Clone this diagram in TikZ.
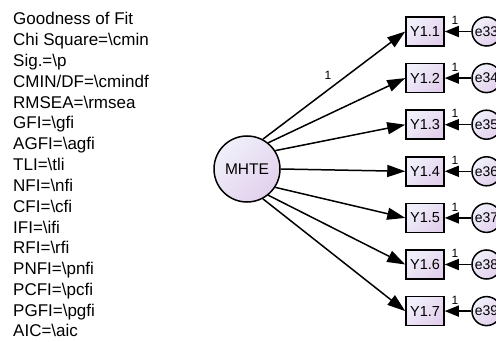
\documentclass[tikz,border=0pt]{standalone}
\usepackage{fontspec}
\setmainfont{Liberation Sans}
\usetikzlibrary{arrows.meta}
\definecolor{lavL}{HTML}{F0F0FA}
\definecolor{lavD}{HTML}{E2D0EC}
\begin{document}
\begin{tikzpicture}[x=1pt,y=-1pt,
  shade/.style={top color=lavL, bottom color=lavD, shading angle=45},
  lat/.style={circle, draw, line width=1.5pt, minimum size=66pt, inner sep=0pt, shade,
    font=\fontsize{15.5}{16}\selectfont},
  obs/.style={rectangle, draw, line width=1.5pt, minimum width=38pt, minimum height=29pt,
    inner sep=0pt, shade, font=\fontsize{14.5}{15}\selectfont},
  err/.style={circle, draw, line width=1.5pt, minimum size=29pt, inner sep=0pt, shade,
    font=\fontsize{14}{15}\selectfont},
  regarrow/.style={line width=1.5pt, -{Triangle[length=18pt,width=12pt]}},
  errarrow/.style={line width=1.5pt, -{Triangle[length=14pt,width=11pt]}},
  one/.style={font=\fontsize{12}{12}\selectfont, inner sep=0pt},
  fitline/.style={anchor=base west, inner sep=0pt, font=\fontsize{17}{19.5}\selectfont}
]
\useasboundingbox (0,0) rectangle (496,342);

% fit statistics
\foreach \t [count=\i] in {Goodness of Fit,
  Chi Square=\textbackslash cmin,
  Sig.=\textbackslash p,
  CMIN/DF=\textbackslash cmindf,
  RMSEA=\textbackslash rmsea,
  GFI=\textbackslash gfi,
  AGFI=\textbackslash agfi,
  TLI=\textbackslash tli,
  NFI=\textbackslash nfi,
  CFI=\textbackslash cfi,
  IFI=\textbackslash ifi,
  RFI=\textbackslash rfi,
  PNFI=\textbackslash pnfi,
  PCFI=\textbackslash pcfi,
  PGFI=\textbackslash pgfi,
  AIC=\textbackslash aic}
  \node[fitline] (fit\i) at (13,{25+20.8*(\i-1)}) {\t};

% latent variable
\node[lat] (mhte) at (247,169) {MHTE};

% indicators and their errors
\foreach \i/\e in {1/33,2/34,3/35,4/36,5/37,6/38,7/39}{
  \pgfmathsetmacro{\yy}{31.5+46.6*(\i-1)}
  \node[obs] (y\i) at (425,\yy) {Y1.\i};
  \node[err] (e\i) at (486.5,\yy) {e\e};
  \draw[errarrow] (e\i.west) -- (y\i.east);
  \node[one] (w\i) at (455,\yy-11) {1};
}

% regression paths
\draw[regarrow] (mhte.62) -- (y1.west);
\draw[regarrow] (mhte.51) -- (y2.west);
\draw[regarrow] (mhte.33) -- (y3.west);
\draw[regarrow] (mhte.0) -- (y4.west);
\draw[regarrow] (mhte.-33) -- (y5.west);
\draw[regarrow] (mhte.-51) -- (y6.west);
\draw[regarrow] (mhte.-62) -- (y7.west);
\node[one] (w0) at (328,75) {1};
\end{tikzpicture}
\end{document}
